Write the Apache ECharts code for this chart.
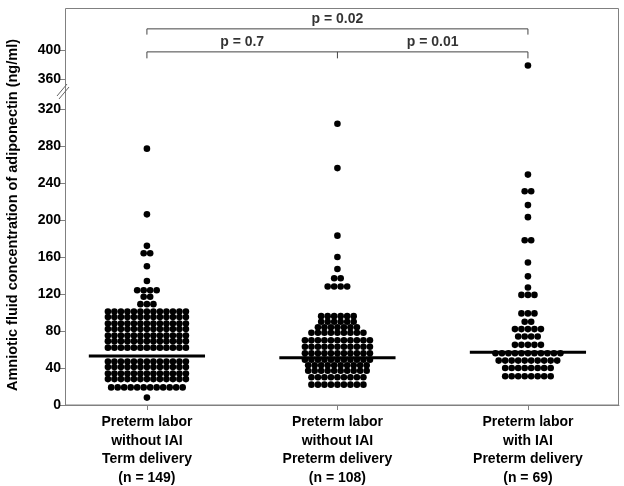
<!DOCTYPE html>
<html><head><meta charset="utf-8">
<script src="https://cdn.jsdelivr.net/npm/echarts@6/dist/echarts.min.js"></script>
<style>html,body{margin:0;padding:0;background:#fff}#c{width:624px;height:486px}</style>
</head><body><div id="c"></div>
<script>
// ---------- data ----------
const categories = [
  'Preterm labor\nwithout IAI\nTerm delivery\n(n = 149)',
  'Preterm labor\nwithout IAI\nPreterm delivery\n(n = 108)',
  'Preterm labor\nwith IAI\nPreterm delivery\n(n = 69)'
];
// amniotic fluid adiponectin (ng/ml), one entry per patient (values as binned in the dot plot)
const group1 = [
  277, 206, 172, 164, 164, 150, 134,
  124, 124, 124, 124, 117, 117, 109, 109, 109,
  101,101,101,101,101,101,101,101,101,101,101,101,101,
  95,95,95,95,95,95,95,95,95,95,95,95,95,
  88,88,88,88,88,88,88,88,88,88,88,88,88,
  82,82,82,82,82,82,82,82,82,82,82,82,82,
  75,75,75,75,75,75,75,75,75,75,75,75,75,
  69,69,69,69,69,69,69,69,69,69,69,69,69,
  62,62,62,62,62,62,62,62,62,62,62,62,62,
  47,47,47,47,47,47,47,47,47,47,47,47,47,
  41,41,41,41,41,41,41,41,41,41,41,41,41,
  34,34,34,34,34,34,34,34,34,34,34,34,34,
  28,28,28,28,28,28,28,28,28,28,28,28,28,
  19,19,19,19,19,19,19,19,19,19,19,19,
  8
];
const group2 = [
  304, 256, 183, 160, 147, 137, 137, 128, 128, 128, 128,
  96,96,96,96,96,96,
  90,90,90,90,90,90,
  84,84,84,84,84,84,84,
  78,78,78,78,78,78,78,78,78,
  70,70,70,70,70,70,70,70,70,70,70,
  63,63,63,63,63,63,63,63,63,63,63,
  56,56,56,56,56,56,56,56,56,56,56,
  49,49,49,49,49,49,49,49,49,49,49,
  43,43,43,43,43,43,43,43,43,43,
  37,37,37,37,37,37,37,37,37,37,
  30,30,30,30,30,30,30,30,30,
  22,22,22,22,22,22,22,22,22
];
const group3 = [
  379, 249, 231, 231, 216, 203, 178, 178, 154, 139, 127,
  119, 119, 119, 99, 99, 99, 90, 90,
  82, 82, 82, 82, 82, 74, 74, 74, 74, 65, 65, 65, 65, 65,
  56,56,56,56,56,56,56,56,56,56,56,
  48,48,48,48,48,48,48,48,48,48,
  40,40,40,40,40,40,40,40,
  31,31,31,31,31,31,31,31
];
const medians = [53, 51, 57];
const lowerTicks = [0, 40, 80, 120, 160, 200, 240, 280, 320];
const upperTicks = [360, 400];
const pLabels = ['p = 0.7', 'p = 0.01', 'p = 0.02'];
const yTitle = 'Amniotic fluid concentration of adiponectin (ng/ml)';

// ---------- layout constants ----------
const FONT = "'Liberation Sans', Arial, sans-serif";
const XMIN = -0.43, XMAX = 2.478;
const PLOT_W = 554;
const PX_PER_UNIT = PLOT_W / (XMAX - XMIN);
const DOT_SPACING = 6.5;      // px between neighbouring dots in a row
const BREAK_LOW = 335, BREAK_HIGH = 345;

function swarm(values, gi) {
  const counts = new Map();
  values.forEach(v => counts.set(v, (counts.get(v) || 0) + 1));
  const pts = [];
  counts.forEach((n, v) => {
    for (let i = 0; i < n; i++) {
      pts.push([gi + (i - (n - 1) / 2) * DOT_SPACING / PX_PER_UNIT, v]);
    }
  });
  return pts;
}
const allPts = [group1, group2, group3].map((g, i) => swarm(g, i)).flat();
const lowPts = allPts.filter(p => p[1] <= BREAK_LOW);
const highPts = allPts.filter(p => p[1] >= BREAK_HIGH);

const medianSeries = medians.map((m, i) => ({
  type: 'line', xAxisIndex: 1, yAxisIndex: 1, symbol: 'none', silent: true,
  lineStyle: { color: '#000', width: 3 },
  data: [[i - 0.305, m], [i + 0.305, m]], z: 5
}));

const bracketColor = '#444';
const brackets = [
  [[0, 389], [0, 398], [2, 398], [2, 389]],
  [[1, 398], [1, 389]],
  [[0, 422], [0, 430], [2, 430], [2, 422]]
].map(d => ({
  type: 'line', xAxisIndex: 0, yAxisIndex: 0, symbol: 'none', silent: true,
  lineStyle: { color: bracketColor, width: 1 }, data: d
}));

const pSeries = {
  type: 'scatter', xAxisIndex: 0, yAxisIndex: 0, symbolSize: 0, silent: true,
  data: [[0.5, 398, pLabels[0]], [1.5, 398, pLabels[1]], [1, 430, pLabels[2]]],
  label: {
    show: true, position: 'top', distance: 3,
    formatter: p => p.data[2],
    color: '#000', fontFamily: FONT, fontSize: 14, fontWeight: 'bold'
  }
};

const axisGray = '#808080';
const dotStyle = { color: '#000', opacity: 1 };
const chart = echarts.init(document.getElementById('c'), null, { renderer: 'canvas' });
chart.setOption({
  animation: false,
  backgroundColor: '#fff',
  grid: [
    { left: 65, right: 5, top: 8, height: 82, outerBoundsMode: 'none', containLabel: false },
    { left: 65, right: 5, top: 95, height: 310, outerBoundsMode: 'none', containLabel: false }
  ],
  xAxis: [
    { gridIndex: 0, type: 'value', min: XMIN, max: XMAX, show: false },
    {
      gridIndex: 1, type: 'value', min: XMIN, max: XMAX,
      splitLine: { show: false },
      axisLine: { show: true, onZero: false, lineStyle: { color: axisGray } },
      axisTick: { show: true, customValues: [0, 1, 2], length: 5, lineStyle: { color: axisGray } },
      axisLabel: {
        customValues: [0, 1, 2], formatter: v => categories[Math.round(v)],
        fontFamily: FONT, fontSize: 14, fontWeight: 'bold', color: '#000',
        lineHeight: 18.5, margin: 8
      }
    }
  ],
  yAxis: [
    {
      gridIndex: 0, type: 'value', min: BREAK_HIGH, max: 459,
      splitLine: { show: false },
      axisLine: { show: false, onZero: false },
      axisTick: { show: true, customValues: upperTicks, length: 6, lineStyle: { color: axisGray } },
      axisLabel: { customValues: upperTicks, fontFamily: FONT, fontSize: 14, fontWeight: 'bold', color: '#000', margin: 4 }
    },
    {
      gridIndex: 1, type: 'value', min: 0, max: BREAK_LOW,
      splitLine: { show: false },
      axisLine: { show: false, onZero: false },
      axisTick: { show: true, customValues: lowerTicks, length: 6, lineStyle: { color: axisGray } },
      axisLabel: { customValues: lowerTicks, fontFamily: FONT, fontSize: 14, fontWeight: 'bold', color: '#000', margin: 4 }
    }
  ],
  series: [
    {
      type: 'scatter', xAxisIndex: 1, yAxisIndex: 1, data: lowPts,
      symbol: 'circle', symbolSize: 6.6, itemStyle: dotStyle, silent: true
    },
    {
      type: 'scatter', xAxisIndex: 0, yAxisIndex: 0, data: highPts,
      symbol: 'circle', symbolSize: 6.6, itemStyle: dotStyle, silent: true
    },
    ...medianSeries, ...brackets, pSeries
  ],
  graphic: [
    { type: 'rect', shape: { x: 65.5, y: 8.5, width: 553, height: 396.5 },
      style: { fill: null, stroke: axisGray, lineWidth: 1 }, silent: true, z: -1 },
    { type: 'line', shape: { x1: 57, y1: 96, x2: 67, y2: 84 }, style: { stroke: '#666', lineWidth: 1 } },
    { type: 'line', shape: { x1: 59, y1: 99, x2: 69, y2: 87 }, style: { stroke: '#666', lineWidth: 1 } },
    { type: 'text', x: 13, y: 215, rotation: Math.PI / 2,
      style: { text: yTitle, font: 'bold 14.5px ' + FONT, fill: '#000', align: 'center', verticalAlign: 'middle' } }
  ]
});
</script></body></html>
